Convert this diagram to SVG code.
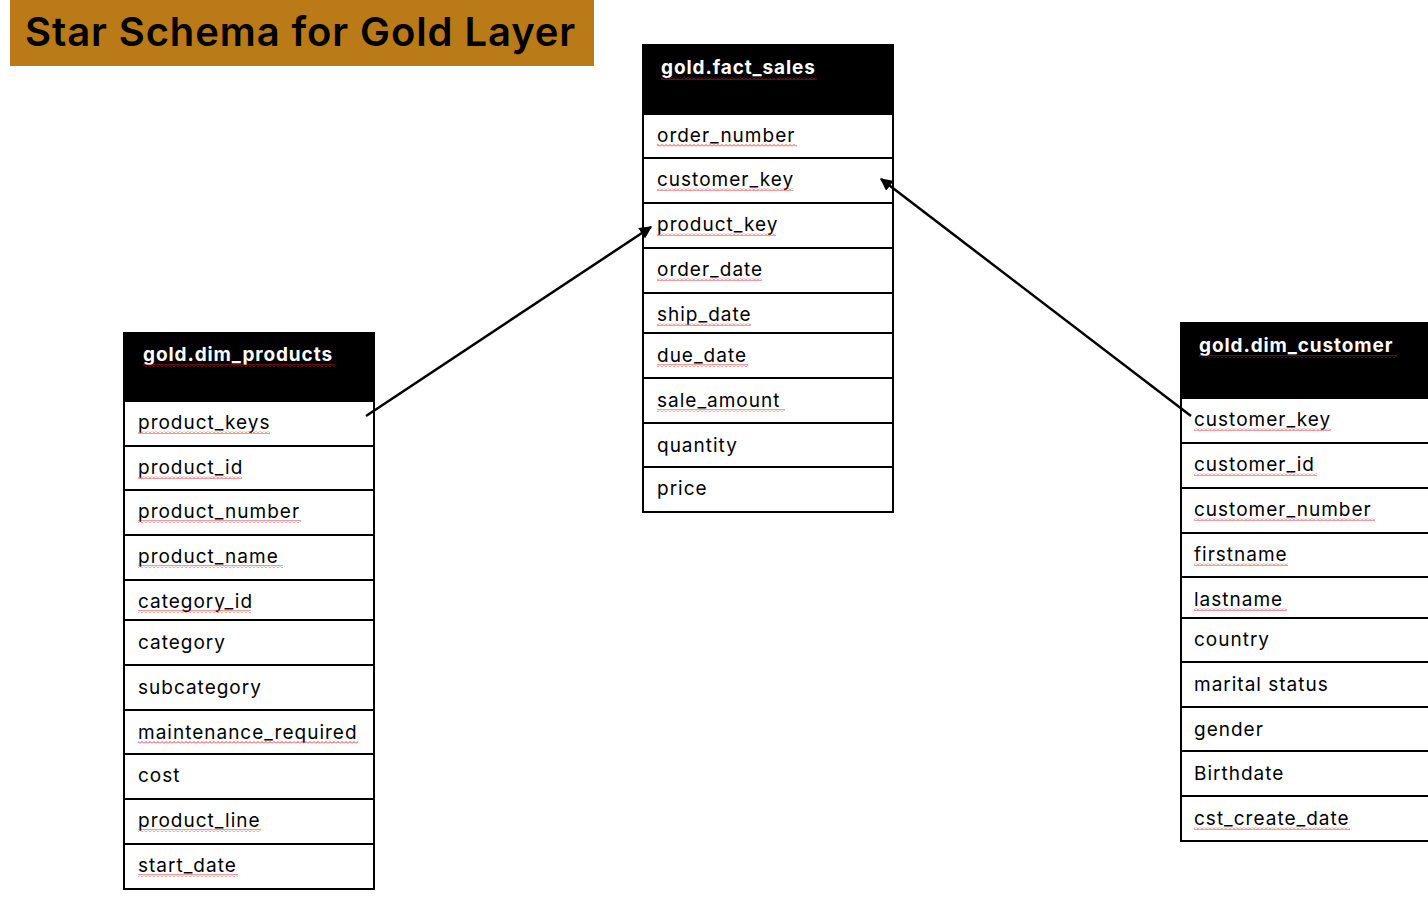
<svg xmlns="http://www.w3.org/2000/svg" width="1428" height="900" viewBox="0 0 1428 900">
<style>
.bg{fill:#ffffff}
.banner{fill:#B97A17}
.title{font-family:Inter,"Noto Sans","Liberation Sans",sans-serif;font-size:40px;font-weight:600;letter-spacing:0.9px;fill:#000}
.hdr{fill:#000;stroke:#000;stroke-width:2}
.row{fill:#fff;stroke:#000;stroke-width:2}
.ht{font-family:Inter,"Noto Sans","Liberation Sans",sans-serif;font-size:19px;font-weight:700;letter-spacing:0.9px;fill:#fff}
.ft{font-family:Inter,"Noto Sans","Liberation Sans",sans-serif;font-size:19px;letter-spacing:1px;fill:#000}
.sq{fill:url(#sq)}
.conn{stroke:#000;stroke-width:2.5;fill:none;marker-end:url(#arr)}
</style>
<defs>
<pattern id="sq" patternUnits="userSpaceOnUse" width="4" height="3">
<path d="M0 2.5 L2 0.5 L4 2.5" fill="none" stroke="#e02020" stroke-width="0.9"/>
</pattern>
<marker id="arr" viewBox="0 0 10 10" refX="9" refY="5" markerWidth="5" markerHeight="5" orient="auto" markerUnits="strokeWidth">
<path d="M0 0 L10 5 L0 10 Z" fill="#000"/>
</marker>
</defs>
<rect class="bg" x="0" y="0" width="1428" height="900"/>
<g id="title">
<rect class="banner" x="10" y="0" width="584" height="66"/>
<text class="title" x="25" y="46">Star Schema for Gold Layer</text>
</g>
<g id="fact_sales">
<rect class="hdr" x="643" y="45" width="250" height="69"/>
<text class="ht" x="661" y="74">gold.fact_sales</text>
<rect class="sq" x="661" y="77" width="156" height="3"/>
<rect class="row" x="643" y="114" width="250" height="44"/>
<rect class="row" x="643" y="158" width="250" height="45"/>
<rect class="row" x="643" y="203" width="250" height="45"/>
<rect class="row" x="643" y="248" width="250" height="45"/>
<rect class="row" x="643" y="293" width="250" height="40"/>
<rect class="row" x="643" y="333" width="250" height="45"/>
<rect class="row" x="643" y="378" width="250" height="45"/>
<rect class="row" x="643" y="423" width="250" height="44"/>
<rect class="row" x="643" y="467" width="250" height="45"/>
<text class="ft" x="657" y="142">order_number</text>
<text class="ft" x="657" y="186">customer_key</text>
<text class="ft" x="657" y="231">product_key</text>
<text class="ft" x="657" y="276">order_date</text>
<text class="ft" x="657" y="321">ship_date</text>
<text class="ft" x="657" y="362">due_date</text>
<text class="ft" x="657" y="407">sale_amount</text>
<text class="ft" x="657" y="452">quantity</text>
<text class="ft" x="657" y="495">price</text>
<rect class="sq" x="657" y="144" width="140" height="3"/>
<rect class="sq" x="657" y="188" width="136" height="3"/>
<rect class="sq" x="657" y="233" width="119" height="3"/>
<rect class="sq" x="657" y="278" width="105" height="3"/>
<rect class="sq" x="657" y="323" width="94" height="3"/>
<rect class="sq" x="657" y="364" width="91" height="3"/>
<rect class="sq" x="657" y="409" width="128" height="3"/>
</g>
<g id="dim_products">
<rect class="hdr" x="124" y="333" width="250" height="68"/>
<text class="ht" x="143" y="361">gold.dim_products</text>
<rect class="sq" x="143" y="364" width="192" height="3"/>
<rect class="row" x="124" y="401" width="250" height="45"/>
<rect class="row" x="124" y="446" width="250" height="44"/>
<rect class="row" x="124" y="490" width="250" height="45"/>
<rect class="row" x="124" y="535" width="250" height="45"/>
<rect class="row" x="124" y="580" width="250" height="40"/>
<rect class="row" x="124" y="620" width="250" height="45"/>
<rect class="row" x="124" y="665" width="250" height="45"/>
<rect class="row" x="124" y="710" width="250" height="44"/>
<rect class="row" x="124" y="754" width="250" height="45"/>
<rect class="row" x="124" y="799" width="250" height="45"/>
<rect class="row" x="124" y="844" width="250" height="45"/>
<text class="ft" x="138" y="429">product_keys</text>
<text class="ft" x="138" y="474">product_id</text>
<text class="ft" x="138" y="518">product_number</text>
<text class="ft" x="138" y="563">product_name</text>
<text class="ft" x="138" y="608">category_id</text>
<text class="ft" x="138" y="649">category</text>
<text class="ft" x="138" y="694">subcategory</text>
<text class="ft" x="138" y="739">maintenance_required</text>
<text class="ft" x="138" y="782">cost</text>
<text class="ft" x="138" y="827">product_line</text>
<text class="ft" x="138" y="872">start_date</text>
<rect class="sq" x="138" y="431" width="132" height="3"/>
<rect class="sq" x="138" y="476" width="104" height="3"/>
<rect class="sq" x="138" y="520" width="163" height="3"/>
<rect class="sq" x="138" y="565" width="145" height="3"/>
<rect class="sq" x="138" y="610" width="113" height="3"/>
<rect class="sq" x="138" y="741" width="220" height="3"/>
<rect class="sq" x="138" y="829" width="123" height="3"/>
<rect class="sq" x="138" y="874" width="100" height="3"/>
</g>
<g id="dim_customer">
<rect class="hdr" x="1181" y="323" width="260" height="75"/>
<text class="ht" x="1199" y="352">gold.dim_customer</text>
<rect class="sq" x="1199" y="355" width="198" height="3"/>
<rect class="row" x="1181" y="398" width="260" height="45"/>
<rect class="row" x="1181" y="443" width="260" height="45"/>
<rect class="row" x="1181" y="488" width="260" height="45"/>
<rect class="row" x="1181" y="533" width="260" height="44"/>
<rect class="row" x="1181" y="577" width="260" height="41"/>
<rect class="row" x="1181" y="618" width="260" height="44"/>
<rect class="row" x="1181" y="662" width="260" height="45"/>
<rect class="row" x="1181" y="707" width="260" height="44"/>
<rect class="row" x="1181" y="751" width="260" height="45"/>
<rect class="row" x="1181" y="796" width="260" height="45"/>
<text class="ft" x="1194" y="426">customer_key</text>
<text class="ft" x="1194" y="471">customer_id</text>
<text class="ft" x="1194" y="516">customer_number</text>
<text class="ft" x="1194" y="561">firstname</text>
<text class="ft" x="1194" y="606">lastname</text>
<text class="ft" x="1194" y="646">country</text>
<text class="ft" x="1194" y="691">marital status</text>
<text class="ft" x="1194" y="736">gender</text>
<text class="ft" x="1194" y="780">Birthdate</text>
<text class="ft" x="1194" y="825">cst_create_date</text>
<rect class="sq" x="1194" y="428" width="137" height="3"/>
<rect class="sq" x="1194" y="473" width="123" height="3"/>
<rect class="sq" x="1194" y="518" width="181" height="3"/>
<rect class="sq" x="1194" y="563" width="94" height="3"/>
<rect class="sq" x="1194" y="608" width="93" height="3"/>
<rect class="sq" x="1194" y="827" width="156" height="3"/>
</g>
<g id="connectors">
<line class="conn" x1="366" y1="416" x2="651" y2="227"/>
<line class="conn" x1="1191" y1="416" x2="881" y2="179"/>
</g>
</svg>
